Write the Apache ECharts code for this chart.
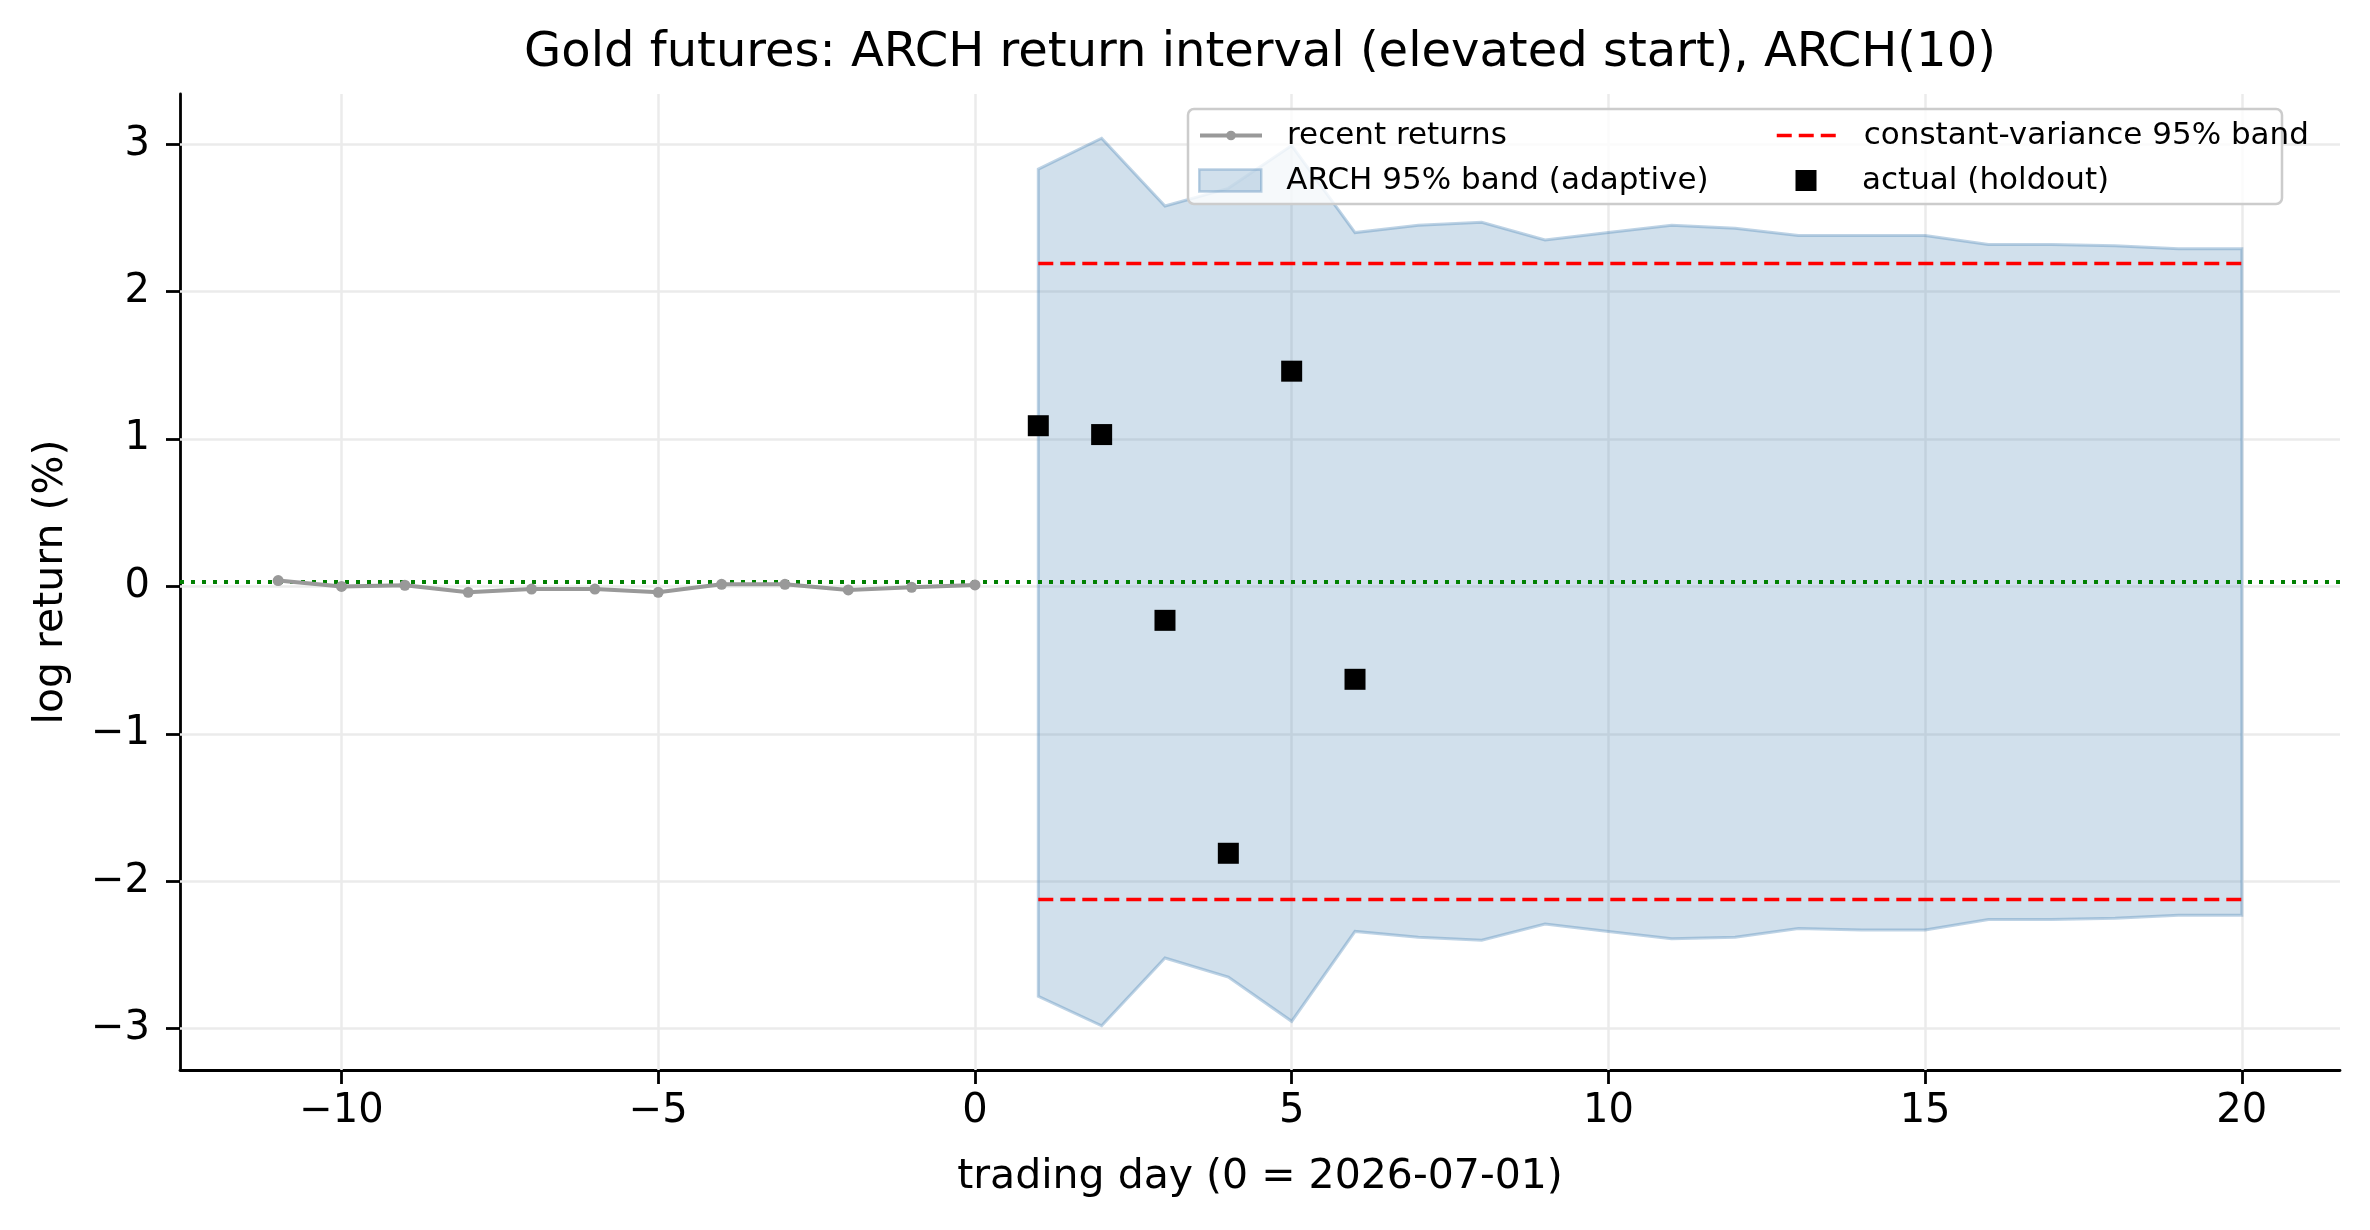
<!DOCTYPE html>
<html>
<head>
<meta charset="utf-8" />
<title>Gold futures ARCH</title>
<script src="https://cdn.jsdelivr.net/npm/echarts@6/dist/echarts.min.js"></script>
<style>
html,body{margin:0;padding:0;background:#fff}
#chart{width:2370px;height:1230px}
</style>
</head>
<body>
<div id="chart"></div>
<script>
// recent history
var histDays = [-11, -10, -9, -8, -7, -6, -5, -4, -3, -2, -1, 0];
var histReturns = [0.04, 0.0, 0.008, -0.04, -0.018, -0.018, -0.04, 0.014, 0.014, -0.024, -0.006, 0.01];
// forecast horizon
var fcDays = [1, 2, 3, 4, 5, 6, 7, 8, 9, 10, 11, 12, 13, 14, 15, 16, 17, 18, 19, 20];
var bandUpper = [2.83, 3.04, 2.58, 2.70, 2.99, 2.40, 2.45, 2.47, 2.35, 2.40, 2.45, 2.43, 2.38, 2.38, 2.38, 2.32, 2.32, 2.31, 2.29, 2.29];
var bandLower = [-2.78, -2.98, -2.52, -2.65, -2.95, -2.34, -2.38, -2.40, -2.29, -2.34, -2.39, -2.38, -2.32, -2.33, -2.33, -2.26, -2.26, -2.25, -2.23, -2.23];
var constBand = [2.19, -2.124];
var meanReturn = 0.033;
// holdout
var actualDays = [1, 2, 3, 4, 5, 6];
var actualReturns = [1.09, 1.03, -0.23, -1.81, 1.46, -0.63];
// ticks
var xTicks = [-10, -5, 0, 5, 10, 15, 20];
var yTicks = [-3, -2, -1, 0, 1, 2, 3];

var FONT = 'DejaVu Sans';
function minus(v) { return String(v).replace('-', '\u2212'); }

var chart = echarts.init(document.getElementById('chart'));

var gridLines = xTicks.map(function (v) { return { xAxis: v }; })
  .concat(yTicks.map(function (v) { return { yAxis: v }; }));

// one legend per entry so each handle can have its own size
function legendBox(left, centerY, h, item, lw) {
  return {
    orient: 'vertical', left: left, top: centerY - 13, padding: 0, z: 20,
    itemWidth: 62, itemHeight: h,
    lineStyle: { width: lw || 3.5 },
    textStyle: { fontFamily: FONT, fontSize: 31, color: '#000', padding: [0, 0, 0, 20] },
    data: [item]
  };
}

chart.setOption({
  backgroundColor: '#fff',
  animation: false,
  title: {
    text: 'Gold futures: ARCH return interval (elevated start), ARCH(10)',
    left: 1255, top: 25, textAlign: 'center',
    textStyle: { fontFamily: FONT, fontSize: 48, fontWeight: 'normal', color: '#000' }
  },
  grid: { left: 180, right: 30, top: 94, bottom: 160 },
  legend: [
    legendBox(1198, 133, 12, { name: 'recent returns' }, 4),
    legendBox(1198, 178, 22, {
      name: 'ARCH 95% band (adaptive)', icon: 'rect',
      itemStyle: { color: 'rgba(70,130,180,0.25)', borderColor: 'rgba(70,130,180,0.35)', borderWidth: 2.5 }
    }),
    legendBox(1775, 133, 12, { name: 'constant-variance 95% band', itemStyle: { opacity: 0 } }, 3.5),
    legendBox(1795.5, 178, 21, { name: 'actual (holdout)', icon: 'path://M0,0L10,0L10,10L0,10Z' })
  ],
  graphic: [{
    type: 'rect', z: 10,
    shape: { x: 1188, y: 109, width: 1094, height: 95, r: 6 },
    style: { fill: 'rgba(255,255,255,0.8)', stroke: '#cccccc', lineWidth: 2.5 }
  }],
  xAxis: {
    type: 'value', min: -12.55, max: 21.55,
    name: 'trading day (0 = 2026-07-01)', nameLocation: 'middle', nameGap: 87,
    nameTextStyle: { fontFamily: FONT, fontSize: 41, color: '#000' },
    axisLine: { onZero: false, lineStyle: { color: '#000', width: 2.8 } },
    axisTick: { customValues: xTicks, length: 14, lineStyle: { color: '#000', width: 2.8 } },
    axisLabel: { customValues: xTicks, formatter: minus, fontFamily: FONT, fontSize: 40, color: '#000', margin: 22 },
    splitLine: { show: false }
  },
  yAxis: {
    type: 'value', min: -3.28, max: 3.34,
    name: 'log return (%)', nameLocation: 'middle', nameGap: 108, nameRotate: 90,
    nameTextStyle: { fontFamily: FONT, fontSize: 41, color: '#000' },
    axisLine: { onZero: false, lineStyle: { color: '#000', width: 2.8 } },
    axisTick: { customValues: yTicks, length: 14, lineStyle: { color: '#000', width: 2.8 } },
    axisLabel: { customValues: yTicks, formatter: minus, fontFamily: FONT, fontSize: 40, color: '#000', margin: 30 },
    splitLine: { show: false }
  },
  series: [{
    type: 'line', data: [], z: 1, silent: true,
    markLine: {
      silent: true, z: 1, symbol: 'none', label: { show: false },
      lineStyle: { color: '#ebebeb', width: 2.5, type: 'solid' },
      data: gridLines
    }
  }, {
    type: 'custom', name: 'ARCH 95% band (adaptive)', z: 2,
    itemStyle: { color: 'rgba(70,130,180,0.25)' },
    data: fcDays.map(function (d, i) { return [d, bandLower[i], bandUpper[i]]; }),
    encode: { x: 0, y: [1, 2] },
    renderItem: function (params, api) {
      if (params.dataIndex !== 0) return;
      var pts = [];
      for (var i = 0; i < fcDays.length; i++) pts.push(api.coord([fcDays[i], bandUpper[i]]));
      for (var j = fcDays.length - 1; j >= 0; j--) pts.push(api.coord([fcDays[j], bandLower[j]]));
      return {
        type: 'polygon', shape: { points: pts },
        style: { fill: 'rgba(70,130,180,0.25)', stroke: 'rgba(70,130,180,0.35)', lineWidth: 3 }
      };
    }
  }, {
    type: 'line', name: 'recent returns', z: 4,
    data: histDays.map(function (d, i) { return [d, histReturns[i]]; }),
    symbol: 'circle', symbolSize: 11, showAllSymbol: true,
    itemStyle: { color: '#999999' },
    lineStyle: { color: '#999999', width: 4 }
  }, {
    type: 'line', name: 'constant-variance 95% band', z: 4,
    data: [[fcDays[0], constBand[0]], [fcDays[fcDays.length - 1], constBand[0]]],
    symbol: 'none', itemStyle: { color: '#ff0000' },
    lineStyle: { color: '#ff0000', width: 3.5, type: [15, 7] }
  }, {
    type: 'line', name: 'constant-variance 95% band', z: 4,
    data: [[fcDays[0], constBand[1]], [fcDays[fcDays.length - 1], constBand[1]]],
    symbol: 'none', itemStyle: { color: '#ff0000' },
    lineStyle: { color: '#ff0000', width: 3.5, type: [15, 7] }
  }, {
    type: 'line', data: [], z: 4, silent: true,
    markLine: {
      silent: true, z: 4, symbol: 'none', label: { show: false },
      lineStyle: { color: '#008000', width: 4, type: [4, 7] },
      data: [{ yAxis: meanReturn }]
    }
  }, {
    type: 'scatter', name: 'actual (holdout)', z: 5,
    symbol: 'rect', symbolSize: 21, symbolKeepAspect: true,
    itemStyle: { color: '#000', opacity: 1 },
    data: actualDays.map(function (d, i) { return [d, actualReturns[i]]; })
  }]
});
</script>
</body>
</html>
